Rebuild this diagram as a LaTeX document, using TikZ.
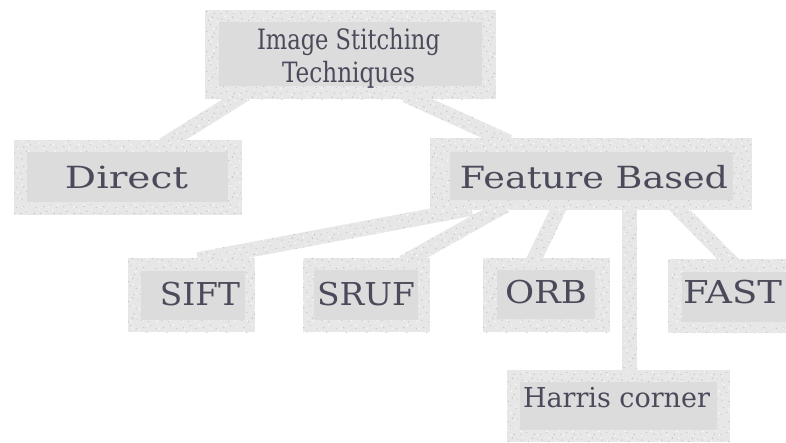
\documentclass[tikz,border=0pt]{standalone}
\usepackage{fontspec}
\setmainfont{DejaVu Serif}
\usetikzlibrary{fit,calc,patterns}
\definecolor{mottle}{HTML}{E7E7E7}
\definecolor{innerg}{HTML}{DCDCDC}
\definecolor{txt}{HTML}{4A4A5A}
\definecolor{speckdark}{HTML}{C4C4C4}
\definecolor{specklight}{HTML}{F7F7F7}
\newcommand{\fitw}[3]{\resizebox{#1pt}{\height}{\fontsize{#2}{#2}\selectfont #3}}
\pgfdeclarepatternformonly{speckA}{\pgfqpoint{0pt}{0pt}}{\pgfqpoint{20pt}{20pt}}{\pgfqpoint{20pt}{20pt}}{%
  \pgfpathcircle{\pgfqpoint{2pt}{3pt}}{0.8pt}
  \pgfpathcircle{\pgfqpoint{7pt}{11pt}}{0.7pt}
  \pgfpathcircle{\pgfqpoint{13pt}{5pt}}{0.9pt}
  \pgfpathcircle{\pgfqpoint{17pt}{15pt}}{0.7pt}
  \pgfpathcircle{\pgfqpoint{4pt}{16pt}}{0.8pt}
  \pgfpathcircle{\pgfqpoint{11pt}{18pt}}{0.6pt}
  \pgfpathcircle{\pgfqpoint{15pt}{9pt}}{0.8pt}
  \pgfpathcircle{\pgfqpoint{9pt}{1.5pt}}{0.7pt}
  \pgfpathcircle{\pgfqpoint{18.5pt}{4pt}}{0.6pt}
  \pgfpathcircle{\pgfqpoint{1pt}{9pt}}{0.7pt}
  \pgfusepath{fill}}
\pgfdeclarepatternformonly{speckB}{\pgfqpoint{0pt}{0pt}}{\pgfqpoint{26pt}{22pt}}{\pgfqpoint{26pt}{22pt}}{%
  \pgfpathcircle{\pgfqpoint{3pt}{5pt}}{1pt}
  \pgfpathcircle{\pgfqpoint{10pt}{2pt}}{0.9pt}
  \pgfpathcircle{\pgfqpoint{18pt}{8pt}}{1.1pt}
  \pgfpathcircle{\pgfqpoint{23pt}{15pt}}{0.9pt}
  \pgfpathcircle{\pgfqpoint{6pt}{18pt}}{1pt}
  \pgfpathcircle{\pgfqpoint{14pt}{13pt}}{0.9pt}
  \pgfpathcircle{\pgfqpoint{21pt}{1pt}}{0.8pt}
  \pgfpathcircle{\pgfqpoint{1pt}{12pt}}{1pt}
  \pgfusepath{fill}}
\pgfdeclarelayer{bg}
\pgfdeclarelayer{links}
\pgfsetlayers{bg,links,main}
% band connector between two named coordinates
\newcommand{\band}[2]{%
  \coordinate (ba) at ($(#1)!-10pt!(#2)$);
  \coordinate (bb) at ($(#2)!-10pt!(#1)$);
  \path[linkfill] ($(ba)!7.5pt!90:(bb)$) -- ($(bb)!7.5pt!-90:(ba)$) -- ($(bb)!7.5pt!90:(ba)$) -- ($(ba)!7.5pt!-90:(bb)$) -- cycle;}
\begin{document}
\begin{tikzpicture}[x=1pt,y=-1pt,
  outerbox/.style={fill=mottle, inner sep=0pt, draw=none,
    postaction={pattern=speckA, pattern color=speckdark},
    postaction={pattern=speckB, pattern color=specklight}},
  innerbox/.style={fill=innerg, inner sep=0pt, draw=none},
  lbl/.style={anchor=base, inner sep=0pt, text=txt},
  linkfill/.style={fill=mottle,
    postaction={pattern=speckA, pattern color=speckdark},
    postaction={pattern=speckB, pattern color=specklight}}]
\useasboundingbox (0,0) rectangle (786,442);
\begin{pgfonlayer}{bg}
\fill[white] (0,0) rectangle (786,442);
\end{pgfonlayer}
% outer boxes
\node (title)  [outerbox, fit={(205,10)(496,99)}] {};
\node (direct) [outerbox, fit={(14,140)(242,215)}] {};
\node (feature)[outerbox, fit={(430,138)(752,210)}] {};
\node (sift)   [outerbox, fit={(128,258)(255,332)}] {};
\node (sruf)   [outerbox, fit={(303,258)(430,332)}] {};
\node (orb)    [outerbox, fit={(483,258)(610,332)}] {};
\node (fast)   [outerbox, fit={(668,259)(786,333)}] {};
\node (harris) [outerbox, fit={(507,370)(730,442)}] {};
% inner fills
\node (title-in)  [innerbox, fit={(219,22)(482,86)}] {};
\node (direct-in) [innerbox, fit={(27,152)(228,202)}] {};
\node (feature-in)[innerbox, fit={(450,152)(733,200)}] {};
\node (sift-in)   [innerbox, fit={(141,271)(245,320)}] {};
\node (sruf-in)   [innerbox, fit={(314,270)(418,320)}] {};
\node (orb-in)    [innerbox, fit={(497,270)(595,319)}] {};
\node (fast-in)   [innerbox, fit={(682,272)(786,322)}] {};
\node (harris-in) [innerbox, fit={(520,382)(717,430)}] {};
% labels
\node (title-t1) [lbl] at (348.5,49) {\fitw{183}{28}{Image Stitching}};
\node (title-t2) [lbl] at (348.5,82) {\fitw{133}{28}{Techniques}};
\node (direct-t) [lbl] at (126.5,188) {\fitw{123}{30.5}{Direct}};
\node (feature-t)[lbl] at (594,188) {\fitw{268}{30.5}{Feature Based}};
\node (sift-t)   [lbl] at (200,305) {\fitw{80}{31.5}{SIFT}};
\node (sruf-t)   [lbl] at (366,305) {\fitw{98}{31.5}{SRUF}};
\node (orb-t)    [lbl] at (546,303) {\fitw{82}{31.5}{ORB}};
\node (fast-t)   [lbl] at (732.5,303) {\fitw{99}{31.5}{FAST}};
\node (harris-t) [lbl] at (616.5,407) {\fitw{187}{27.4}{Harris corner}};
% connector end points on the boxes
\coordinate (c1a) at ($(title.south west)+(32,0)$);
\coordinate (c1b) at ($(direct.north west)+(158,0)$);
\coordinate (c2a) at ($(title.south west)+(210,0)$);
\coordinate (c2b) at ($(feature.north west)+(70,0)$);
\coordinate (c3a) at ($(feature.south west)+(32,0)$);
\coordinate (c3b) at ($(sift.north west)+(80,0)$);
\coordinate (c4a) at ($(feature.south west)+(67,0)$);
\coordinate (c4b) at ($(sruf.north west)+(109,0)$);
\coordinate (c5a) at ($(feature.south west)+(128,0)$);
\coordinate (c5b) at ($(orb.north west)+(52,0)$);
\coordinate (c6a) at ($(feature.south west)+(200,0)$);
\coordinate (c6b) at ($(harris.north west)+(123,0)$);
\coordinate (c7a) at ($(feature.south west)+(250,0)$);
\coordinate (c7b) at ($(fast.north west)+(60,0)$);
% connectors
\begin{pgfonlayer}{links}
\band{c1a}{c1b}
\band{c2a}{c2b}
\band{c3a}{c3b}
\band{c4a}{c4b}
\band{c5a}{c5b}
\band{c6a}{c6b}
\band{c7a}{c7b}
\end{pgfonlayer}
\end{tikzpicture}
\end{document}
